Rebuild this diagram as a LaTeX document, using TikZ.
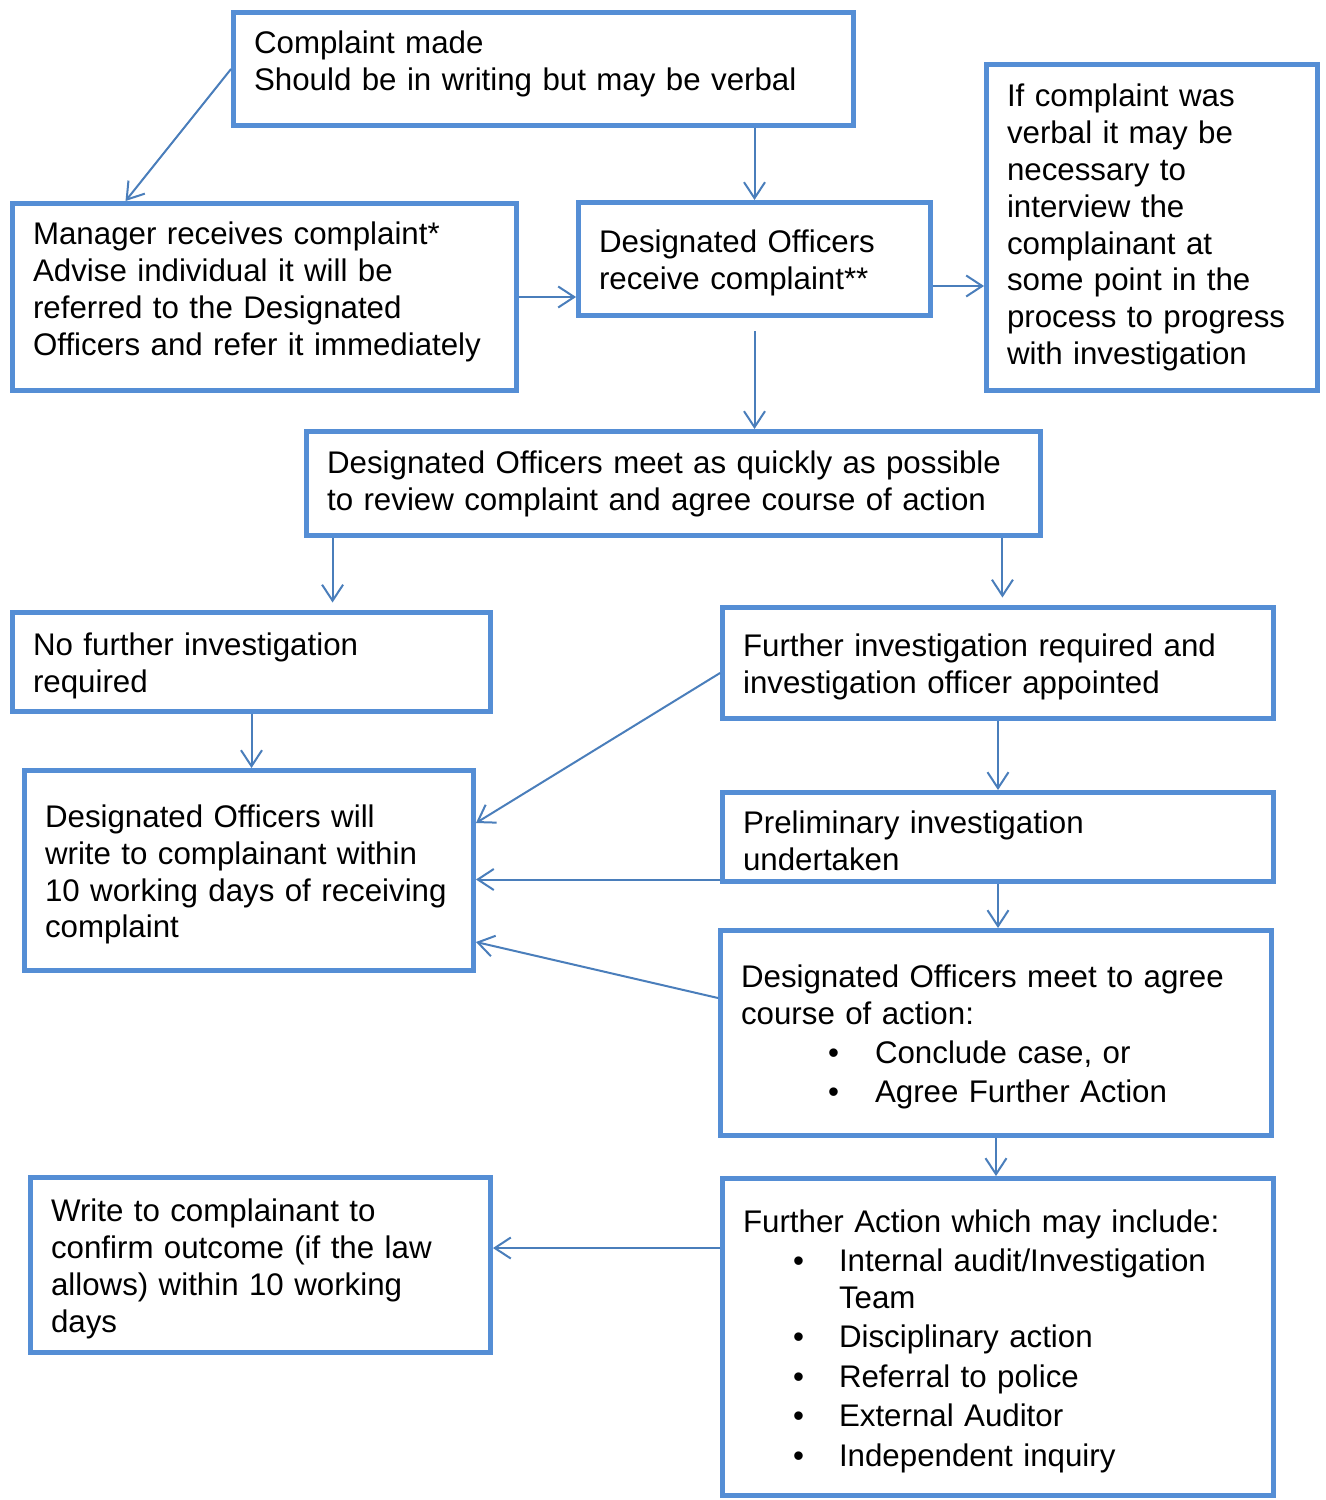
\documentclass[tikz,border=0pt]{standalone}
\usepackage{fontspec}
\setmainfont{Liberation Sans}
\usetikzlibrary{arrows.meta, positioning, calc}
\definecolor{boxblue}{RGB}{85,142,213}
\definecolor{arrblue}{RGB}{74,126,187}
\newcommand{\boxfont}{\fontsize{17.8}{21}\selectfont\hyphenpenalty=10000\relax\exhyphenpenalty=10000\relax}
% bullet line: bullet indent, text indent, text
\newcommand{\blt}[3]{\par\vspace{0.05cm}\hangindent=#2\hangafter=1\noindent\hspace*{#1}\makebox[\dimexpr#2-#1\relax][l]{\textbullet}#3}
% room under the text (positive lifts it in the box, negative drops it)
\newcommand{\lift}[1]{\par\vspace{#1}\nointerlineskip\hbox{}}

\begin{document}
\begin{tikzpicture}[x=0.02cm, y=-0.02cm, font=\boxfont,
    box/.style={draw=boxblue, line width=0.1cm, align=left, inner xsep=0.41cm, inner ysep=0pt},
    arr/.style={draw=arrblue, line width=0.04cm, -{Straight Barb[length=0.32cm,width=0.42cm]}}]
    \useasboundingbox (0,0) rectangle (1325,1500);
    % boxes
    \node[box, minimum width=12.4cm, minimum height=2.26cm, text width=11.58cm] (made) at (543.5,69) {Complaint made\\Should be in writing but may be verbal\lift{0.2cm}};
    \node[box, minimum width=10.08cm, minimum height=3.74cm, text width=9.26cm] (mgr) at (264.5,297) {Manager receives complaint*\\Advise individual it will be\\referred to the Designated\\Officers and refer it immediately\lift{0.2cm}};
    \node[box, minimum width=7.04cm, minimum height=2.26cm, text width=6.22cm] (recv) at (754.5,259) {Designated Officers\\receive complaint**\lift{-0.16cm}};
    \node[box, minimum width=6.62cm, minimum height=6.52cm, text width=5.8cm] (verbal) at (1152,227.5) {If complaint was\\verbal it may be\\necessary to\\interview the\\complainant at\\some point in the\\process to progress\\with investigation};
    \node[box, minimum width=14.68cm, minimum height=2.08cm, text width=13.86cm] (meet) at (673.5,483.5) {Designated Officers meet as quickly as possible\\to review complaint and agree course of action};
    \node[box, minimum width=9.56cm, minimum height=1.98cm, text width=8.74cm] (nofur) at (251.5,662) {No further investigation\\required\lift{-0.16cm}};
    \node[box, minimum width=11.02cm, minimum height=2.22cm, text width=10.2cm] (furreq) at (998,663) {Further investigation required and\\investigation officer appointed\lift{-0.16cm}};
    \node[box, minimum width=8.98cm, minimum height=4cm, text width=8.16cm] (write10) at (249,870.5) {Designated Officers will\\write to complainant within\\10 working days of receiving\\complaint\lift{-0.16cm}};
    \node[box, minimum width=11.02cm, minimum height=1.78cm, text width=10.2cm] (prelim) at (998,837) {Preliminary investigation\\undertaken\lift{-0.16cm}};
    \node[box, minimum width=11.02cm, minimum height=4.1cm, text width=10.2cm] (agree) at (996,1033) {Designated Officers meet to agree\\course of action:%
        \blt{1.74cm}{2.68cm}{Conclude case, or}\blt{1.74cm}{2.68cm}{Agree Further Action}\lift{-0.16cm}};
    \node[box, minimum width=9.2cm, minimum height=3.5cm, text width=8.38cm] (confirm) at (260.5,1265) {Write to complainant to\\confirm outcome (if the law\\allows) within 10 working\\days\lift{-0.16cm}};
    \node[box, minimum width=11.02cm, minimum height=6.34cm, text width=10.2cm] (action) at (998,1337) {Further Action which may include:%
        \blt{1cm}{1.92cm}{Internal audit/Investigation\break Team}\blt{1cm}{1.92cm}{Disciplinary action}%
        \blt{1cm}{1.92cm}{Referral to police}\blt{1cm}{1.92cm}{External Auditor}%
        \blt{1cm}{1.92cm}{Independent inquiry}\lift{-0.16cm}};
    % connectors
    \coordinate (r1) at ([yshift=-0.54cm]recv.east);
    \coordinate (r2) at ([yshift=-0.27cm]recv.south);
    \coordinate (m1) at ([xshift=0.57cm]meet.south west);
    \coordinate (m2) at ([xshift=-0.81cm]meet.south east);
    \coordinate (p1) at ([yshift=0.09cm]prelim.south west);
    \coordinate (f1) at ([yshift=1.78cm]action.west);
    \draw[arr] (made.west) -- ([xshift=2.31cm]mgr.north west);
    \draw[arr] (recv.north |- made.south) -- (recv.north);
    \draw[arr] (mgr.east) -- (mgr.east -| recv.west);
    \draw[arr] (r1) -- (r1 -| verbal.west);
    \draw[arr] (r2) -- (r2 |- meet.north);
    \draw[arr, shorten >=0.15cm] (m1) -- (m1 |- nofur.north);
    \draw[arr, shorten >=0.15cm] (m2) -- (m2 |- furreq.north);
    \draw[arr] (nofur.south) -- (nofur.south |- write10.north);
    \draw[arr] ([yshift=-0.2cm]furreq.west) -- ([yshift=0.95cm]write10.east);
    \draw[arr] (furreq.south) -- (prelim.north);
    \draw[arr] (p1) -- (p1 -| write10.east);
    \draw[arr] (prelim.south) -- (prelim.south |- agree.north);
    \draw[arr] ([yshift=0.7cm]agree.west) -- ([yshift=-1.43cm]write10.east);
    \draw[arr] (agree.south) -- (agree.south |- action.north);
    \draw[arr] (f1) -- (f1 -| confirm.east);
\end{tikzpicture}
\end{document}
